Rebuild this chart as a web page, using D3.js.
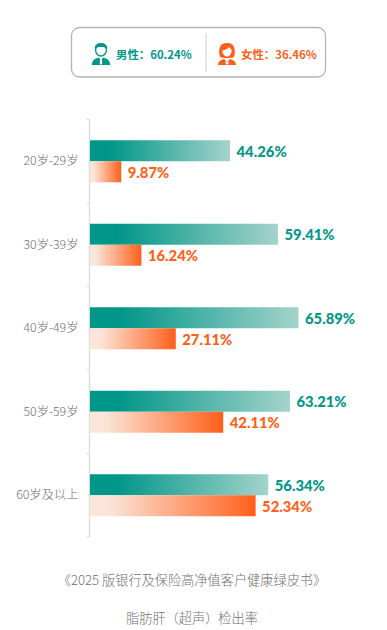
<!DOCTYPE html>
<html>
<head>
<meta charset="utf-8">
<script src="https://cdn.jsdelivr.net/npm/d3@7"></script>
<style>
    html, body { margin: 0; padding: 0; background: #fff; }
    svg { display: block; }
    text { font-family: "Noto Sans CJK SC", "Noto Sans", sans-serif; }
    .value_label { font-family: "Lato", "Noto Sans CJK SC", sans-serif; font-weight: 900; font-size: 14.8px; }
    .category_label { font-size: 12.3px; fill: #6e6e6e; font-weight: 300; }
    .note_label { font-size: 13.2px; fill: #707070; font-weight: 300; }
</style>
</head>
<body>
<div class="fatty_liver"></div>
<script>
const categories = ["20岁-29岁", "30岁-39岁", "40岁-49岁", "50岁-59岁", "60岁及以上"]
const maleValues = [44.26, 59.41, 65.89, 63.21, 56.34]
const femaleValues = [9.87, 16.24, 27.11, 42.11, 52.34]
const legendMale = "男性：60.24%"
const legendFemale = "女性：36.46%"
const sourceText = "《2025 版银行及保险高净值客户健康绿皮书》"
const captionText = "脂肪肝（超声）检出率"

const teal = "#009688"
const orange = "#ff5f1a"

const width = 387
const height = 630
const margin = { top: 119.5, bottom: 93, left: 90 }

const svg = d3.select(".fatty_liver")
    .append("svg")
    .attr("width", width)
    .attr("height", height)

const defs = svg.append("defs")

function addGradient(id, stops) {
    const g = defs.append("linearGradient")
        .attr("id", id)
        .attr("x1", "0%").attr("y1", "0%")
        .attr("x2", "100%").attr("y2", "0%")
    stops.forEach(s => g.append("stop").attr("offset", s[0]).attr("stop-color", s[1]))
}

addGradient("grad_teal", [["0%", teal], ["14%", teal], ["100%", "#a4d3cb"]])
addGradient("grad_orange", [["0%", "#fbe6da"], ["12%", "#fbe4d7"], ["100%", orange]])

// legend box
const legend = svg.append("g")

legend.append("rect")
    .attr("x", 71.5).attr("y", 27.5)
    .attr("width", 254).attr("height", 49.5)
    .attr("rx", 8)
    .attr("fill", "#fff")
    .attr("stroke", "#b4b4b4")
    .attr("stroke-width", 1.3)

legend.append("line")
    .attr("x1", 206).attr("x2", 206)
    .attr("y1", 33).attr("y2", 72)
    .attr("stroke", "#d6d6d6")
    .attr("stroke-width", 1.2)

function manIcon(g, colour) {
    g.append("path")
        .attr("d", "M-9,11 C-9,6 -6,4.5 -2.5,3.5 L0,6 L2.5,3.5 C6,4.5 9,6 9,11 Z")
        .attr("fill", colour)
    g.append("path").attr("d", "M-1,5.5 L1,5.5 L1.2,9.5 L0,11 L-1.2,9.5 Z").attr("fill", "#fff")
    g.append("ellipse")
        .attr("cx", 0).attr("cy", -4).attr("rx", 5.4).attr("ry", 6)
        .attr("fill", "#fff").attr("stroke", colour).attr("stroke-width", 1.3)
    g.append("path")
        .attr("d", "M-6,-4 C-7,-10 -3,-11 0,-11 C4,-11 7,-9 6,-4 C5,-6.5 3,-7 0,-7 C-3,-7 -5,-6.5 -6,-4 Z")
        .attr("fill", colour)
}

function womanIcon(g, colour) {
    g.append("path")
        .attr("d", "M-7,3 C-9,-3 -8,-11 0,-11 C8,-11 9,-3 7,3 C4,4.5 -4,4.5 -7,3 Z")
        .attr("fill", colour)
    g.append("path")
        .attr("d", "M-4.6,-3.5 C-2,-4 1,-5 2.5,-7 C3.5,-5.5 4.4,-5 4.6,-3.5 C4.6,0 2.5,2.5 0,2.5 C-2.5,2.5 -4.6,0 -4.6,-3.5 Z")
        .attr("fill", "#fff")
    g.append("path")
        .attr("d", "M-9,11 C-9,7.5 -6,6 -3,5 L0,8 L3,5 C6,6 9,7.5 9,11 Z")
        .attr("fill", colour)
    g.append("path").attr("d", "M-2,7 L0,8.5 L2,7 L1,10.5 L-1,10.5 Z").attr("fill", "#fff")
}

manIcon(legend.append("g").attr("transform", "translate(101,54)"), teal)
womanIcon(legend.append("g").attr("transform", "translate(227,54)"), orange)

legend.append("text")
    .attr("x", 116).attr("y", 58.5)
    .attr("fill", teal)
    .attr("font-size", 11.4)
    .attr("font-weight", 700)
    .text(legendMale)

legend.append("text")
    .attr("x", 241).attr("y", 58.5)
    .attr("fill", orange)
    .attr("font-size", 11.4)
    .attr("font-weight", 700)
    .text(legendFemale)

// scales
const x = d3.scaleLinear()
    .domain([0, 100])
    .range([margin.left, margin.left + 316.4])

const y = d3.scaleBand()
    .domain(categories)
    .range([margin.top, height - margin.bottom])

const barHeight = 21

// axis
const yAxis = d3.axisLeft(y)
    .tickSize(0)
    .tickPadding(11)

const axisGroup = svg.append("g")
    .attr("transform", `translate(${margin.left - 0.5},0)`)
    .call(yAxis)

axisGroup.select(".domain").remove()
axisGroup.selectAll("text").attr("class", "category_label").attr("dy", "0.33em")

axisGroup.append("line")
    .attr("y1", margin.top).attr("y2", height - margin.bottom)
    .attr("stroke", "#dcdcdc")
    .attr("stroke-width", 1.4)

axisGroup.selectAll(".edge_tick")
    .data([...categories.map(d => y(d)), height - margin.bottom])
    .join("line")
    .attr("class", "edge_tick")
    .attr("x1", -3).attr("x2", 0)
    .attr("y1", d => d).attr("y2", d => d)
    .attr("stroke", "#dcdcdc")

// bars
const rows = categories.map((c, i) => ({ c, male: maleValues[i], female: femaleValues[i] }))

svg.selectAll(".bar_male")
    .data(rows)
    .join("rect")
    .attr("class", "bar_male")
    .attr("x", x(0))
    .attr("y", d => y(d.c) + y.bandwidth() / 2 - barHeight)
    .attr("width", d => x(d.male) - x(0))
    .attr("height", barHeight)
    .attr("fill", "url(#grad_teal)")

svg.selectAll(".bar_female")
    .data(rows)
    .join("rect")
    .attr("class", "bar_female")
    .attr("x", x(0))
    .attr("y", d => y(d.c) + y.bandwidth() / 2)
    .attr("width", d => x(d.female) - x(0))
    .attr("height", barHeight)
    .attr("fill", "url(#grad_orange)")

svg.selectAll(".label_male")
    .data(rows)
    .join("text")
    .attr("class", "value_label label_male")
    .attr("x", d => x(d.male) + 6.5)
    .attr("y", d => y(d.c) + y.bandwidth() / 2 - 10)
    .attr("dy", "0.36em")
    .attr("fill", teal)
    .text(d => d.male.toFixed(2) + "%")

svg.selectAll(".label_female")
    .data(rows)
    .join("text")
    .attr("class", "value_label label_female")
    .attr("x", d => x(d.female) + 6.5)
    .attr("y", d => y(d.c) + y.bandwidth() / 2 + 11)
    .attr("dy", "0.36em")
    .attr("fill", orange)
    .text(d => d.female.toFixed(2) + "%")

// notes
svg.append("text")
    .attr("class", "note_label")
    .attr("x", 192).attr("y", 585)
    .attr("text-anchor", "middle")
    .text(sourceText)

svg.append("text")
    .attr("class", "note_label")
    .attr("x", 192).attr("y", 623)
    .attr("text-anchor", "middle")
    .text(captionText)
</script>
</body>
</html>
